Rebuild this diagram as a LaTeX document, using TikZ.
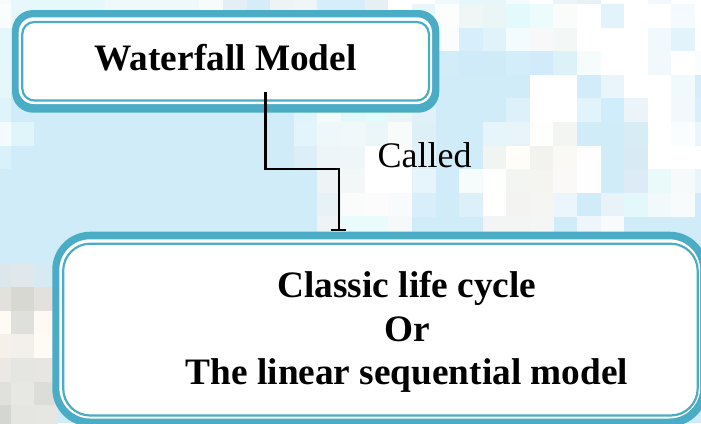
\documentclass[tikz,border=0pt]{standalone}
\usepackage{fontspec}
\setmainfont{Liberation Serif}
\usetikzlibrary{arrows.meta,backgrounds,calc}
\definecolor{bandteal}{HTML}{4BACC6}
\definecolor{skyback}{HTML}{D0ECF9}
\newcommand\mosaicrow[2]{%
  \foreach \mci/\mcc in {#2}{%
    \edef\tmpdef{\noexpand\definecolor{mc}{HTML}{\mcc}}\tmpdef
    \fill[mc] ({-13+23.6*\mci},{-19.6+23.6*#1}) rectangle ({10.8+23.6*\mci},{4.2+23.6*#1});
  }}
\tikzset{
  boxline/.style={draw=bandteal, fill=white, line width=2.2pt, inner sep=0pt, outer sep=0pt},
  band/.style={fill=bandteal},
  gap/.style={fill=white},
  conn/.style={draw=black, line width=2.2pt, -{Bar[width=15pt]}},
  boldtxt/.style={font=\bfseries\fontsize{37.3}{43.5}\selectfont},
}
\begin{document}
\begin{tikzpicture}[x=1pt,y=-1pt]
\useasboundingbox (0,0) rectangle (701,423);
\begin{scope}[on background layer]
\fill[skyback] (0,0) rectangle (701,423);
\mosaicrow{0}{0/F8FBFB,1/E6F8FB,2/E6F8FB,3/E6F8FB,4/E6F8FB,5/EFF8FB,6/EFF8FB,7/EFF8FB,8/EFF8FB,9/F8FBFB,10/E3EEF5,11/D6ECF8,12/EEF3F6,13/F0F6F8,14/D6EEFB,15/D6EEFB,16/E8EFF3,17/FFFFFF,18/FFFFFF,19/F0F9FB,20/E2F8FB,21/E6F7FA,22/F4FBFC,23/FFFFFF,24/EDF4F8,25/E6F1F8,26/FFFFFF,27/FFFFFF,28/F2F8FC,29/FFFFFF,30/FFFFFF}
\mosaicrow{1}{0/FAFDFD,1/E6F8FB,2/E6F8FB,3/E6F8FB,4/E6F8FB,5/EFF8FB,6/EFF8FB,7/EFF8FB,8/EFF8FB,9/F8FBFB,10/E3EEF5,11/D6ECF8,12/EEF3F6,13/F0F6F8,14/D6EEFB,15/D6EEFB,16/E8EFF3,17/FFFFFF,18/E8F6FA,19/FCFDFD,20/EEF7F5,21/EAF6F5,22/E2FAFC,23/ECFBFC,24/FAFCFB,25/FFFFFF,26/E2F3FB,27/FFFFFF,28/FFFFFF,29/F5FAFE,30/FFFFFF}
\mosaicrow{2}{0/E4F7FB,19/FAFDFE,20/D6EFFB,21/E0F3FA,22/F2FBFD,23/F6F8F9,24/F3F8F7,25/FFFFFF,26/FFFFFF,27/FFFFFF,28/F2F9FC,29/E2F3FB,30/FFFFFF}
\mosaicrow{3}{0/E6F7FB,19/D2ECF8,20/CFEAF8,21/D0EBF8,22/D3EDFA,23/D2EBFB,24/DDF1F9,25/F6FCFC,26/FFFFFF,27/FFFFFF,28/F2F9FC,29/FFFFFF,30/FAFDFE}
\mosaicrow{4}{0/E6F7FB,23/FFFFFF,24/FFFFFF,25/D2EDF9,26/EAF5FB,27/FFFFFF,28/FFFFFF,29/F0F9FC,30/D6EEF9}
\mosaicrow{5}{0/DDF4FA,13/E0F4FB,14/F4FBFC,15/E2F8FB,16/E2FCFC,17/EAF6F6,18/E0F1F9,22/DDF1FA,23/FFFFFF,24/FFFFFF,25/E2F4FB,26/D0EDFB,27/ECF4FA,28/FFFFFF,29/F2F9FC,30/D8F0FA}
\mosaicrow{6}{0/F4FBFC,1/E0F5FA,13/E4F4FB,14/EEF8FB,15/F0F8F9,16/EAF6F7,17/F7FBFA,18/DDEFF7,21/E6F5FB,22/E8F4F9,23/FEFEFC,24/F3F5F3,27/D8ECF6,28/FFFFFF,29/FAFDFE,30/EAF6FB}
\mosaicrow{7}{0/D8F1FA,13/DCEFF8,14/EEF5F8,15/EEF6F8,16/FFFFFF,17/FFFFFF,18/E0F0F7,21/F0F5F2,22/FEFDF8,23/F2F2EF,24/FAF9F6,25/FDFEFD,27/D8EBF5,28/FFFFFF,29/FFFFFF,30/FFFFFF}
\mosaicrow{8}{14/EEF4F6,15/F3F7F8,16/FFFFFF,17/FFFFFF,18/E6F5FB,20/F6FBFC,21/FFFFFF,22/F3F5F2,23/F4F4F1,24/FAF9F7,25/FDFEFD,27/DCEBF5,28/EAFAFB,29/F6FAFA,30/E8F6FB}
\mosaicrow{9}{14/E6F2F6,15/FAFCFB,16/FCFCFC,17/F8FBFB,18/D8EEF9,20/DCF0F9,21/FFFFFF,22/F3F4F2,23/F5F5F3,24/EAF6FB,26/E8F3F9,27/E2F8FA,28/F2F9FA,29/F8FBFB}
\mosaicrow{10}{14/EEF3F6,15/EAFBFB,16/EAFBFB,17/F6F9FA,21/F3F5F4,22/F3F4F4,23/F4F6F6,25/EEF6FB,26/F8FBFC}
\mosaicrow{12}{0/DDE6EA,1/E0E8EC,2/D6EAF3}
\mosaicrow{13}{0/E3E1DD,1/D8D8D3,2/E2E1DD}
\mosaicrow{14}{0/FEFAF4,1/DFE0DB,2/FEFAF3}
\mosaicrow{15}{0/F6F0EA,1/F3EFEA,2/FEFAF4}
\mosaicrow{16}{0/ECE8E3,1/E5E5E1,2/E7E6E2}
\mosaicrow{17}{0/E0E1DD,1/E7E7E3,2/DCDDD9}
\mosaicrow{18}{0/D4D6D2,1/E5E5E1,2/E6E6E2}
\end{scope}
\node[boxline, rounded corners=12pt, minimum width=406.6pt, minimum height=78.5pt, boldtxt, text height=26pt, text depth=7.3pt] (wm) at (225.6,61.25) {Waterfall Model};
\node[boxline, rounded corners=27pt, minimum width=634.5pt, minimum height=171.8pt] (lsm) at (380.45,329.6) {};
\node[boldtxt, align=center, inner sep=0pt] (lsmtext) at (407,332) {Classic life cycle\\Or\\The linear sequential model};
\node[font=\fontsize{36}{43}\selectfont, inner sep=0pt, anchor=base] (called) at (424.5,167.5) {Called};
\begin{scope}[on background layer]
\fill[band, rounded corners=21pt] ($(wm.north west)+(-10.3,-12)$) rectangle ($(wm.south east)+(10.4,12.2)$);
\fill[gap, rounded corners=15pt] ($(wm.north west)+(-3.6,-4.7)$) rectangle ($(wm.south east)+(3.1,3.5)$);
\fill[band, rounded corners=38pt] ($(lsm.north west)+(-10.9,-12)$) rectangle ($(lsm.south east)+(10,11)$);
\fill[gap, rounded corners=31pt] ($(lsm.north west)+(-3.9,-4.4)$) rectangle ($(lsm.south east)+(2.5,3)$);
\end{scope}
\draw[conn] ([xshift=39.9pt,yshift=8.2pt]wm.south) |- ([xshift=-41.55pt,yshift=74.9pt]lsm.north) -- ([xshift=-41.55pt,yshift=12.4pt]lsm.north);
\end{tikzpicture}
\end{document}
